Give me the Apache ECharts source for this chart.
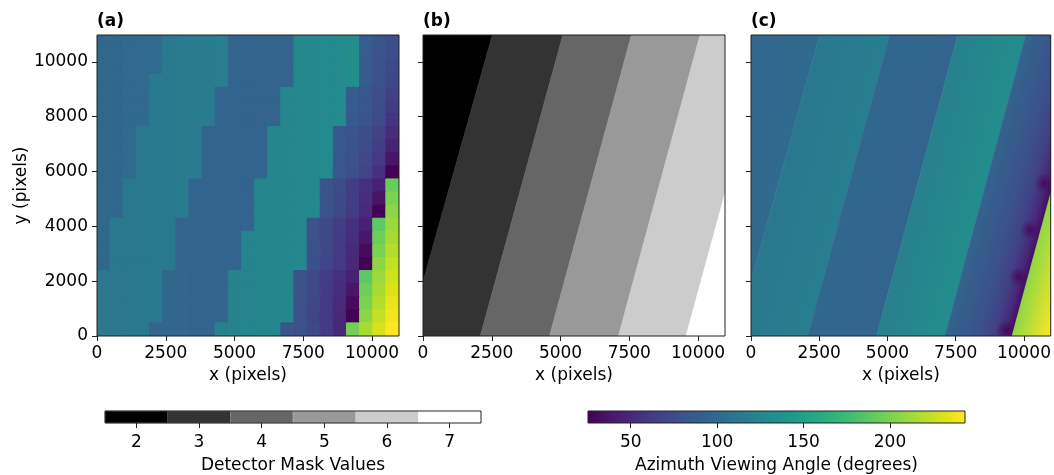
<!DOCTYPE html>
<html><head><meta charset="utf-8">
<script src="https://cdn.jsdelivr.net/npm/echarts@6/dist/echarts.min.js"></script>
<style>html,body{margin:0;padding:0;background:#fff}#chart{width:1054px;height:475px}</style>
</head><body><div id="chart"></div>
<script>
// ---------------- data ----------------
const TILE_SIZE = 10980;          // image size in pixels (both axes)
const GRID_N = 23;                // coarse angle grid is 23 x 23
const xTicks = [0, 2500, 5000, 7500, 10000];
const yTicks = [0, 2000, 4000, 6000, 8000, 10000];
const azimuthTicks = [50, 100, 150, 200];
const azimuthRange = [25.3, 243.4];
const detectorIds = [2, 3, 4, 5, 6, 7];

// panel (a): coarse azimuth grid, row 0 = top of image
const azimuthGrid = [
  [99,99,100,100,101, 114,115,116,116,117, 96,96,95,95,95, 127,128,129,130,132, 89,82,77],
  [99,99,100,100,101, 114,115,116,116,117, 96,96,95,95,95, 127,128,129,130,132, 89,81,75],
  [99,99,100,100,101, 114,115,116,116,117, 96,96,95,95,95, 127,128,129,130,132, 88,80,73],
  [99,99,100,100, 114,114,115,116,116,117, 96,96,95,95,95, 127,128,129,130,132, 88,79,71],
  [99,99,100,100, 114,114,115,116,116, 96,96,95,95,95, 126,127,128,129,130, 87,84,77,67],
  [99,99,100,100, 114,114,115,116,116, 96,96,95,95,95, 126,127,128,129,130, 87,84,76,63],
  [99,99,100,100, 114,114,115,116,116, 96,96,95,95,95, 126,127,128,129,130, 86,83,74,58],
  [99,99,100, 113,114,114,115,116, 96,96,96,95,95, 125,126,127,128,129, 85,82,76,68,52],
  [99,99,100, 113,114,114,115,116, 96,96,96,95,95, 125,126,127,128,129, 85,81,74,65,46],
  [99,99,100, 113,114,114,115,116, 96,96,96,95,95, 125,126,127,128,129, 84,80,72,61,37],
  [99,99,100, 113,114,114,115,116, 96,96,96,95,95, 125,126,127,128,129, 84,79,70,56,26],
  [99,99, 113,113,114,114,115, 96,96,96,96,95, 124,125,126,127,128, 81,74,65,55,45, 193],
  [99,99, 113,113,114,114,115, 96,96,96,96,95, 124,125,126,127,128, 81,73,64,53,36, 200],
  [99,99, 113,113,114,114,115, 96,96,96,96,95, 124,125,126,127,128, 80,72,63,51,26, 206],
  [99, 112,113,113,114,114, 96,96,96,96,95,95, 124,125,126,127, 80,73,64,55,45, 189,211],
  [99, 112,113,113,114,114, 96,96,96,96,95, 123,124,125,126,127, 80,72,63,53,38, 195,215],
  [99, 112,113,113,114,114, 96,96,96,96,95, 123,124,125,126,127, 79,71,62,51,31, 200,219],
  [99, 112,113,113,114,114, 96,96,96,96,95, 123,124,125,126,127, 79,70,61,50,26, 206,224],
  [112,112,113,113,114, 97,97,96,96,96, 122,123,124,125,126, 80,73,64,55,45, 189,211,228],
  [112,112,113,113,114, 97,97,96,96,96, 122,123,124,125,126, 80,72,63,53,38, 195,215,232],
  [112,112,113,113,114, 97,97,96,96,96, 122,123,124,125,126, 79,71,62,51,31, 200,219,236],
  [112,112,113,113,114, 97,97,96,96,96, 122,123,124,125,126, 79,70,61,50,26, 206,224,240],
  [112,112,113,113, 97,97,97,96,96, 121,122,123,124,125, 82,78,72,63,50, 197,215,230,243]
];

// detector footprint limits: x (pixels) at y = 0 and at y = TILE_SIZE (outer two are band limits)
const boundaryBottomX = [-3155, -555, 2084, 4600, 7106, 9564, 10984];
const boundaryTopX    = [-80, 2520, 5083, 7578, 10072, 12551, 13971];

// panel (c): azimuth across each detector band, [fraction across band, azimuth]
const bandAzimuthStops = [
  [[0, 98], [1, 101]],
  [[0, 112], [1, 119]],
  [[0, 98], [1, 96]],
  [[0, 120], [1, 132]],
  [[0, 94], [0.49, 80], [0.73, 66], [0.88, 50], [1, 32]],
  [[0, 207], [1, 243]]
];
// dark minima of azimuth near nadir in panel (c)
const nadirSpotX = [9340, 9801, 10211, 10734];
const nadirSpotY = [219, 2163, 3867, 5570];

// ---------------- colour maps ----------------
const VIRIDIS = ['#440154','#481567','#482677','#453781','#404788','#39568C','#33638D','#2D708E','#287D8E','#238A8D',
                 '#1F968B','#20A387','#29AF7F','#3CBB75','#55C667','#73D055','#95D840','#B8DE29','#DCE319','#FDE725'];
const GRAY6 = ['#000000','#333333','#666666','#999999','#cccccc','#ffffff'];
function hexRgb(h){return [parseInt(h.slice(1,3),16),parseInt(h.slice(3,5),16),parseInt(h.slice(5,7),16)];}
const VRGB = VIRIDIS.map(hexRgb);
function viridis(v){
  let t=(v-azimuthRange[0])/(azimuthRange[1]-azimuthRange[0]);
  t=Math.max(0,Math.min(1,t));
  const p=t*(VRGB.length-1), i=Math.min(Math.floor(p),VRGB.length-2), f=p-i;
  const a=VRGB[i], b=VRGB[i+1];
  return 'rgb('+a.map((x,k)=>Math.round(x+(b[k]-x)*f)).join(',')+')';
}

// ---------------- build series data ----------------
const cell = TILE_SIZE / GRID_N;
const gridCells = [];
azimuthGrid.forEach((row, r) => row.forEach((v, c) => {
  gridCells.push([c*cell, (c+1)*cell, TILE_SIZE-(r+1)*cell, TILE_SIZE-r*cell, v]);
}));
const bands = detectorIds.map((d, i) => [boundaryBottomX[i], boundaryTopX[i], boundaryBottomX[i+1], boundaryTopX[i+1], d, i]);
const spots = nadirSpotX.map((x, i) => [x, nadirSpotY[i]]);

const FONT = 'DejaVu Sans';
const txt = {fontFamily: FONT, fontSize: 17, color: '#000'};
const plain = v => String(v);

function bandPts(api){
  const lb=api.value(0), lt=api.value(1), rb=api.value(2), rt=api.value(3);
  return [api.coord([lb,0]), api.coord([lt,TILE_SIZE]), api.coord([rt,TILE_SIZE]), api.coord([rb,0])];
}
function renderGray(params, api){
  const pts = bandPts(api);
  const col = GRAY6[api.value(5)];
  return {type:'polygon', shape:{points:pts}, style:{fill:col, stroke:col, lineWidth:0.6}};
}
function renderAz(params, api){
  const pts = bandPts(api);
  const i = api.value(5);
  const A = pts[0], B = pts[1], C = pts[3], D = pts[2];
  let dx=((B[0]-A[0])+(D[0]-C[0]))/2, dy=((B[1]-A[1])+(D[1]-C[1]))/2;
  const L=Math.hypot(dx,dy); dx/=L; dy/=L;
  const n=[-dy, dx];
  const proj=(C[0]-A[0])*n[0]+(C[1]-A[1])*n[1];
  const E=[A[0]+n[0]*proj, A[1]+n[1]*proj];
  const stops = bandAzimuthStops[i].map(s => ({offset:s[0], color:viridis(s[1])}));
  const g = new echarts.graphic.LinearGradient(A[0],A[1],E[0],E[1],stops,true);
  return {type:'polygon', shape:{points:pts}, style:{fill:g, stroke:g, lineWidth:0.6}};
}

const mainGrids = [97, 423, 751];
const grid = mainGrids.map(l => ({left:l, top:35, width:302, height:301, show:true, z:10,
  backgroundColor:'transparent', borderColor:'#222', borderWidth:1}));
grid.push({left:105, top:411, width:376, height:16, show:true, z:10, backgroundColor:'transparent', borderColor:'#222', borderWidth:1});
grid.push({left:588, top:411, width:377, height:16, show:true, z:10, backgroundColor:'transparent', borderColor:'#222', borderWidth:1});

const xAxis = mainGrids.map((l, i) => ({
  type:'value', gridIndex:i, min:0, max:TILE_SIZE,
  axisLine:{show:false}, splitLine:{show:false},
  axisTick:{show:true, length:5, customValues:xTicks, lineStyle:{color:'#222', width:1}},
  axisLabel:{...txt, margin:9, customValues:xTicks, formatter:plain},
  name:'x (pixels)', nameLocation:'middle', nameGap:31, nameTextStyle:txt
}));
const yAxis = mainGrids.map((l, i) => ({
  type:'value', gridIndex:i, min:0, max:TILE_SIZE,
  axisLine:{show:false}, splitLine:{show:false},
  axisTick:{show:true, length:5, customValues:yTicks, lineStyle:{color:'#222', width:1}},
  axisLabel:{...txt, show:i===0, margin:9, customValues:yTicks, formatter:plain},
  name: i===0 ? 'y (pixels)' : '', nameLocation:'middle', nameGap:63, nameTextStyle:txt
}));
xAxis.push({type:'category', gridIndex:3, data:detectorIds.map(String), boundaryGap:true,
  axisLine:{show:false}, splitLine:{show:false},
  axisTick:{show:true, length:5, alignWithLabel:true, lineStyle:{color:'#222'}},
  axisLabel:{...txt, margin:11},
  name:'Detector Mask Values', nameLocation:'middle', nameGap:34, nameTextStyle:txt});
yAxis.push({type:'value', gridIndex:3, min:0, max:1, show:false});
xAxis.push({type:'value', gridIndex:4, min:azimuthRange[0], max:azimuthRange[1],
  axisLine:{show:false}, splitLine:{show:false},
  axisTick:{show:true, length:5, customValues:azimuthTicks, lineStyle:{color:'#222'}},
  axisLabel:{...txt, margin:11, customValues:azimuthTicks, formatter:plain},
  name:'Azimuth Viewing Angle (degrees)', nameLocation:'middle', nameGap:34, nameTextStyle:txt});
yAxis.push({type:'value', gridIndex:4, min:0, max:1, show:false});

const series = [
  { type:'custom', xAxisIndex:0, yAxisIndex:0, clip:true, data:gridCells,
    encode:{x:[0,1], y:[2,3]},
    renderItem:(p, api) => {
      const p0=api.coord([api.value(0), api.value(3)]), p1=api.coord([api.value(1), api.value(2)]);
      const col=viridis(api.value(4));
      return {type:'rect', shape:{x:p0[0], y:p0[1], width:p1[0]-p0[0], height:p1[1]-p0[1]},
        style:{fill:col, stroke:col, lineWidth:1}};
    }},
  { type:'custom', xAxisIndex:1, yAxisIndex:1, clip:true, data:bands, encode:{x:[0,2], y:[]}, renderItem:renderGray },
  { type:'custom', xAxisIndex:2, yAxisIndex:2, clip:true, z:2, data:bands.slice(0,5), encode:{x:[0,2], y:[]}, renderItem:renderAz },
  { type:'custom', xAxisIndex:2, yAxisIndex:2, clip:true, z:3, data:spots,
    renderItem:(p, api) => {
      const c=api.coord([api.value(0), api.value(1)]);
      return {type:'circle', shape:{cx:c[0], cy:c[1], r:10},
        style:{fill:new echarts.graphic.RadialGradient(0.5,0.5,0.5,[
          {offset:0, color:'rgba(68,1,84,0.8)'},{offset:0.45, color:'rgba(68,1,84,0.4)'},{offset:1, color:'rgba(68,1,84,0)'}])}};
    }},
  { type:'custom', xAxisIndex:2, yAxisIndex:2, clip:true, z:4, data:bands.slice(5), encode:{x:[0,2], y:[]}, renderItem:renderAz },
  { type:'bar', xAxisIndex:3, yAxisIndex:3, barCategoryGap:'0%', barWidth:'100%',
    data: detectorIds.map((d, i) => ({value:1, itemStyle:{color:GRAY6[i], borderColor:GRAY6[i], borderWidth:0.5}})) },
  { type:'custom', xAxisIndex:4, yAxisIndex:4, clip:true, data:[[azimuthRange[0], azimuthRange[1]]],
    renderItem:(p, api) => {
      const a=api.coord([api.value(0), 1]), b=api.coord([api.value(1), 0]);
      const stops=VIRIDIS.map((c,i)=>({offset:i/(VIRIDIS.length-1), color:c}));
      return {type:'rect', shape:{x:a[0], y:a[1], width:b[0]-a[0], height:b[1]-a[1]},
        style:{fill:new echarts.graphic.LinearGradient(0,0,1,0,stops)}};
    }}
];

const title = [['(a)',97],['(b)',423],['(c)',751]].map(([t,l]) => ({text:t, left:l, top:13, padding:0,
  textStyle:{fontFamily:FONT, fontWeight:'bold', fontSize:17, color:'#000'}}));

const chart = echarts.init(document.getElementById('chart'), null, {renderer:'canvas'});
chart.setOption({animation:false, backgroundColor:'#fff', title, grid, xAxis, yAxis, series});
</script></body></html>
